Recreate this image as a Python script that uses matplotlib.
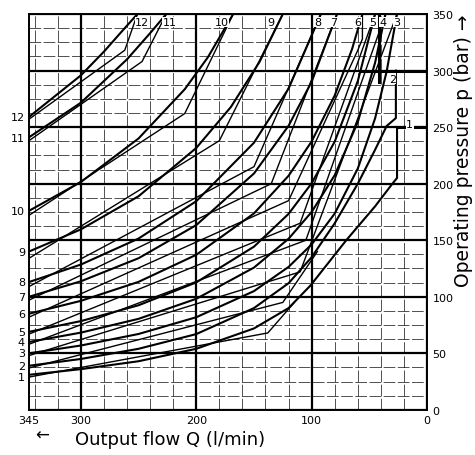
import numpy as np
import matplotlib
matplotlib.use('Agg')
import matplotlib.pyplot as plt

plt.rcParams['font.family'] = ['DejaVu Sans']

# curve numbers and where their labels sit
curve_ids = ['1', '2', '3', '4', '5', '6', '7', '8', '9', '10', '11', '12']
left_label_p = [29, 39, 50, 60, 69, 85, 100, 113, 140, 176, 240, 259]
top_label_q = [15, 30, 26, 38, 47, 60, 81, 95, 135, 178, 223, 247]
top_label_p = [253, 293, 343, 343, 343, 343, 343, 343, 343, 343, 343, 343]

# power curves (Q in l/min, p in bar)
curve_q = {
    '1': [345, 300, 250, 200, 150, 120, 101, 70, 45, 30, 26, 26],
    '2': [345, 300, 250, 200, 150, 120, 100, 80, 60, 45, 35, 27, 27],
    '3': [345, 300, 250, 200, 150, 120, 100, 80, 60, 45, 35, 26],
    '4': [345, 300, 250, 200, 150, 120, 100, 80, 60, 45, 36],
    '5': [345, 300, 250, 200, 150, 120, 100, 80, 60, 45],
    '6': [345, 300, 250, 200, 150, 120, 100, 80, 65, 56],
    '7': [345, 300, 250, 200, 150, 120, 100, 78],
    '8': [345, 300, 250, 200, 150, 120, 105, 92],
    '9': [345, 300, 250, 200, 170, 145, 125],
    '10': [345, 300, 250, 210, 190, 168],
    '11': [345, 300, 260, 240, 226],
    '12': [345, 300, 280, 265, 251],
}
curve_p = {
    '1': [31, 36, 43, 54, 72, 90, 110, 150, 180, 200, 205, 250],
    '2': [39, 45, 54, 67, 90, 112, 135, 165, 200, 230, 251, 258, 300],
    '3': [50, 56.9, 67.1, 81.9, 105, 126.4, 146.3, 173.6, 213.4, 257.8, 299.2, 350],
    '4': [60, 68.3, 80.5, 98.2, 125.8, 151.3, 175, 207.5, 254.5, 307, 350],
    '5': [69, 78.5, 92.5, 112.7, 144.3, 173.3, 200.4, 237.2, 290.7, 350],
    '6': [85, 96.4, 113.2, 137.1, 173.7, 207, 237.4, 278, 319, 350],
    '7': [100, 113.7, 134.1, 163.4, 209, 251.2, 290.2, 350],
    '8': [113, 128.5, 151.5, 184.5, 236.2, 284.1, 319.3, 350],
    '9': [140, 159.6, 188.9, 231.6, 267.8, 308, 350],
    '10': [176, 201.5, 240, 283.5, 311.7, 350],
    '11': [241, 271.6, 310, 333.1, 350],
    '12': [259, 295.8, 316.8, 334.1, 350],
}

# kinked regulator characteristics
kink_q = {
    '1': [345, 138, 115],
    '2': [345, 125, 95],
    '3': [345, 110, 26],
    '4': [345, 105, 36],
    '5': [345, 110, 45],
    '6': [345, 120, 60, 56, 56],
    '7': [345, 135, 78],
    '8': [345, 150, 92],
    '9': [345, 180, 125],
    '10': [345, 210, 168],
    '11': [345, 247, 226],
    '12': [345, 262, 251],
}
kink_p = {
    '1': [29, 68, 95],
    '2': [37, 95, 140],
    '3': [48, 122, 350],
    '4': [58, 150, 350],
    '5': [67, 165, 350],
    '6': [82, 185, 318, 328, 350],
    '7': [97, 200, 350],
    '8': [109, 215, 350],
    '9': [134, 238, 350],
    '10': [172, 262, 350],
    '11': [238, 308, 350],
    '12': [257, 318, 350],
}

# pressure cut-off lines
cutoff_q = [[56, 0], [42, 42], [26, 0]]
cutoff_p = [[300, 300], [290, 350], [250, 250]]

x_ticks = [345, 300, 200, 100, 0]
y_ticks = [0, 50, 100, 150, 200, 250, 300, 350]


def main():
    fig = plt.figure(figsize=(4.75, 4.56), dpi=100)
    ax = fig.add_axes([0.061, 0.099, 0.838, 0.868])

    # grid: heavy every 100 l/min and 50 bar, light in between
    for q in np.arange(0, 345, 20):
        major = q % 100 == 0
        ax.axvline(q, color='black', lw=1.6 if major else 0.6,
                   ls='-' if major else (0, (14, 3)), alpha=1 if major else 0.8, zorder=1)
    for p in np.arange(0, 351, 12.5):
        major = p % 50 == 0
        ax.axhline(p, color='black', lw=1.6 if major else 0.6,
                   ls='-' if major else (0, (14, 3)), alpha=1 if major else 0.8, zorder=1)

    for cid in curve_ids:
        ax.plot(curve_q[cid], curve_p[cid], color='black', lw=1.5, zorder=3)
        ax.plot(kink_q[cid], kink_p[cid], color='black', lw=1.0, zorder=3)

    for qs, ps in zip(cutoff_q, cutoff_p):
        ax.plot(qs, ps, color='black', lw=2.2, zorder=3)

    ax.set_xlim(345, 0)
    ax.set_ylim(0, 350)
    ax.set_xticks(x_ticks)
    ax.set_xticklabels([str(v) for v in x_ticks], fontsize=8)
    ax.yaxis.tick_right()
    ax.set_yticks(y_ticks)
    ax.set_yticklabels([str(v) for v in y_ticks], fontsize=8)
    ax.tick_params(length=0, pad=4)
    for s in ax.spines.values():
        s.set_linewidth(1.4)

    # curve numbers
    for cid, p in zip(curve_ids, left_label_p):
        ax.text(-0.01, p, cid, transform=ax.get_yaxis_transform(),
                ha='right', va='center', fontsize=8)
    for cid, q, p in zip(curve_ids, top_label_q, top_label_p):
        ax.text(q, p, cid, ha='center', va='center', fontsize=8, zorder=4,
                bbox=dict(facecolor='white', edgecolor='none', pad=0.2))

    fig.text(0.089, 0.045, '\u2190', fontsize=12, ha='center', va='center')
    fig.text(0.158, 0.036, 'Output flow Q (l/min)', fontsize=13, ha='left', va='center')
    fig.text(0.976, 0.669, 'Operating pressure p (bar) \u2192', fontsize=13.5,
             rotation=90, ha='center', va='center')

    fig.savefig('out.png', dpi=100)
    plt.close(fig)


if __name__ == '__main__':
    main()
